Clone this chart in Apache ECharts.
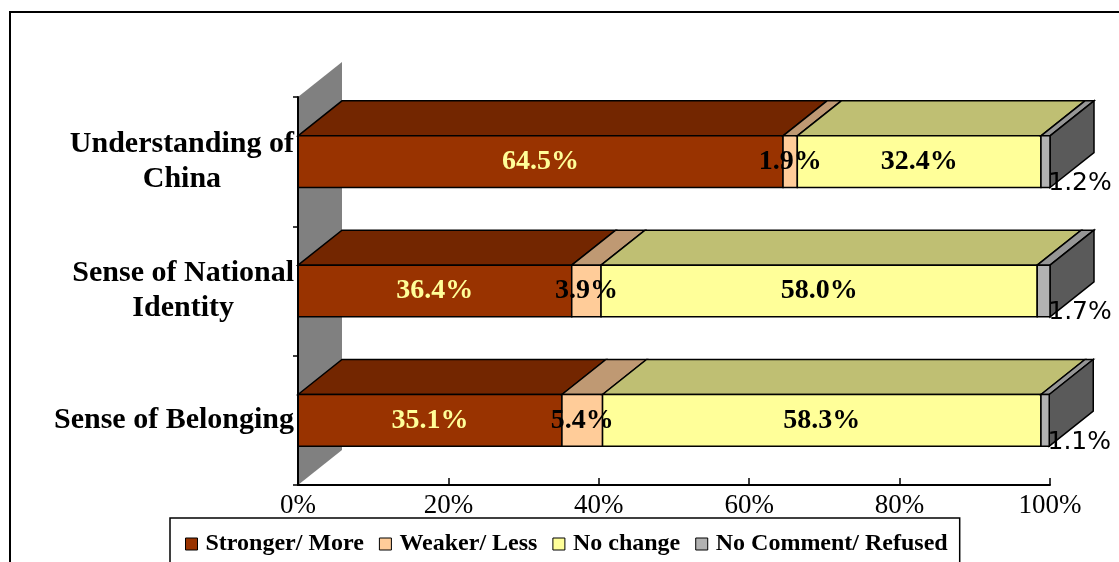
<!DOCTYPE html>
<html>
<head>
<meta charset="utf-8">
<script src="https://cdn.jsdelivr.net/npm/echarts@6/dist/echarts.min.js"></script>
<style>
html, body { margin: 0; padding: 0; background: #fff; }
#main { width: 1119px; height: 562px; }
</style>
</head>
<body>
<div id="main"></div>
<script>
// rows top to bottom
var categories = ['Understanding of\nChina', 'Sense of National\nIdentity', 'Sense of Belonging'];
var seriesNames = ['Stronger/ More', 'Weaker/ Less', 'No change', 'No Comment/ Refused'];
var stronger = [64.5, 36.4, 35.1];
var weaker = [1.9, 3.9, 5.4];
var noChange = [32.4, 58.0, 58.3];
var noComment = [1.2, 1.7, 1.1];
var xTicks = [0, 20, 40, 60, 80, 100];

var allValues = [stronger, weaker, noChange, noComment];
var frontColors = ['#993300', '#FFCC99', '#FFFF99', '#B2B2B2'];
var topColors = ['#732600', '#BF9973', '#BFBF73', '#969696'];
var sideColor = '#5A5A5A';
var labelColors = ['#FFFF99', '#000', '#000', '#000'];
var DX = 44, DY = -35;   // 3d depth offset

var myChart = echarts.init(document.getElementById('main'));

// stacked start/end for every segment
function stackData(k) {
  return categories.map(function (c, i) {
    var start = 0;
    for (var j = 0; j < k; j++) start += allValues[j][i];
    return [i, start, start + allValues[k][i], allValues[k][i]];
  });
}

function makeRender(k) {
  var last = k === allValues.length - 1;
  return function (params, api) {
    var cat = api.value(0);
    var p0 = api.coord([api.value(1), cat]);
    var p1 = api.coord([api.value(2), cat]);
    var band = api.size([0, 1])[1];
    var h = band * 0.4;
    var x0 = p0[0], x1 = p1[0];
    var yT = p0[1] - h / 2, yB = p0[1] + h / 2;
    var line = { stroke: '#000', lineWidth: 1.5 };
    var children = [{
      type: 'polygon',
      shape: { points: [[x0, yT], [x0 + DX, yT + DY], [x1 + DX, yT + DY], [x1, yT]] },
      style: Object.assign({ fill: topColors[k] }, line)
    }];
    if (last) {
      children.push({
        type: 'polygon',
        shape: { points: [[x1, yT], [x1 + DX, yT + DY], [x1 + DX, yB + DY], [x1, yB]] },
        style: Object.assign({ fill: sideColor }, line)
      });
    }
    children.push({
      type: 'rect',
      shape: { x: x0, y: yT, width: x1 - x0, height: h },
      style: Object.assign({ fill: frontColors[k] }, line)
    });
    children.push({
      type: 'text',
      z2: 100,
      style: {
        text: api.value(3).toFixed(1) + '%',
        x: last ? x1 + 30 : (x0 + x1) / 2,
        y: last ? yB - 4 : p0[1],
        align: 'center',
        verticalAlign: 'middle',
        fill: labelColors[k],
        font: last ? 'normal 25px "DejaVu Sans", sans-serif' : 'bold 28px "Liberation Serif", serif'
      }
    });
    return { type: 'group', children: children };
  };
}

var series = [{
  type: 'custom',
  name: 'wall',
  z: 1,
  data: [[0, 0]],
  encode: { x: 0, y: 1 },
  renderItem: function (params, api) {
    var cs = params.coordSys;
    return {
      type: 'polygon',
      shape: { points: [[cs.x, cs.y + cs.height], [cs.x, cs.y], [cs.x + DX, cs.y + DY], [cs.x + DX, cs.y + cs.height + DY]] },
      style: { fill: '#808080' }
    };
  }
}];

seriesNames.forEach(function (name, k) {
  series.push({
    type: 'custom',
    name: name,
    itemStyle: { color: frontColors[k], borderColor: '#000', borderWidth: 1 },
    data: stackData(k),
    encode: { x: [1, 2], y: 0 },
    renderItem: makeRender(k)
  });
});

myChart.setOption({
  animation: false,
  backgroundColor: '#fff',
  graphic: [{
    type: 'rect',
    z: -1,
    shape: { x: 10, y: 12, width: 1200, height: 600 },
    style: { fill: 'none', stroke: '#000', lineWidth: 2 }
  }],
  grid: { left: 298, right: 69, top: 97, bottom: 77 },
  legend: {
    data: seriesNames,
    left: 170,
    top: 518,
    padding: [14, 12, 40, 15],
    borderColor: '#000',
    borderWidth: 1.5,
    itemWidth: 12,
    itemHeight: 12,
    itemGap: 15,
    icon: 'rect',
    itemStyle: { borderColor: '#000', borderWidth: 1 },
    textStyle: {
      fontFamily: '"Liberation Serif", serif',
      fontWeight: 'bold',
      fontSize: 24,
      color: '#000',
      padding: [0, 0, 0, 3]
    }
  },
  xAxis: {
    type: 'value',
    min: xTicks[0],
    max: xTicks[xTicks.length - 1],
    interval: xTicks[1] - xTicks[0],
    z: 10,
    axisLine: { show: true, lineStyle: { color: '#000', width: 2 } },
    axisTick: { show: true, inside: true, length: 7, lineStyle: { color: '#000', width: 1.5 } },
    splitLine: { show: false },
    axisLabel: {
      formatter: '{value}%',
      margin: 7,
      color: '#000',
      fontFamily: '"Liberation Serif", serif',
      fontSize: 27
    }
  },
  yAxis: {
    type: 'category',
    inverse: true,
    data: categories,
    z: 10,
    axisLine: { show: true, lineStyle: { color: '#000', width: 2 } },
    axisTick: { show: true, length: 5, lineStyle: { color: '#000', width: 1.5 } },
    axisLabel: {
      margin: 4,
      formatter: function (v) {
        return v.split('\n').map(function (s) { return '{c|' + s + '}'; }).join('\n');
      },
      rich: {
        c: {
          align: 'center',
          color: '#000',
          fontFamily: '"Liberation Serif", serif',
          fontWeight: 'bold',
          fontSize: 30,
          lineHeight: 35
        }
      }
    }
  },
  series: series
});
</script>
</body>
</html>
